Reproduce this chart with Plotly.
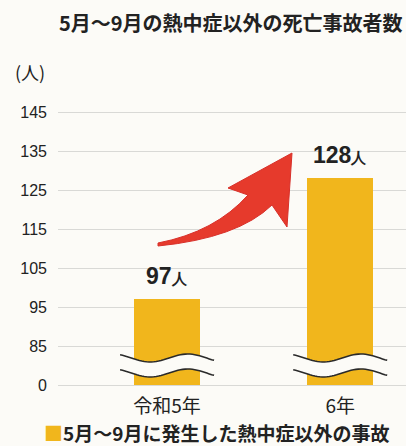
import numpy as np
import plotly.graph_objects as go

# ---- data ----
categories = ["令和5年", "6年"]
values = [97, 128]
value_labels = ["97", "128"]
tick_values = [75, 85, 95, 105, 115, 125, 135, 145]
tick_labels = ["0", "85", "95", "105", "115", "125", "135", "145"]
title_text = "5月〜9月の熱中症以外の死亡事故者数"
legend_text = "5月〜9月に発生した熱中症以外の事故"
unit_text = "(人)"

BAR = "#f1b61c"
BG = "#fcfbf7"
JP = "Noto Sans CJK JP"

W, H = 406, 446
ML, MR, MT, MB = 58, 0, 104, 53
XR = [-0.63, 1.38]
YR = [72.95, 147.05]

def px2x(px):
    return XR[0] + (px - ML) / (W - ML - MR) * (XR[1] - XR[0])

def py2y(py):
    return YR[1] - (py - MT) / (H - MT - MB) * (YR[1] - YR[0])

def pap_x(px):
    return (px - ML) / (W - ML - MR)

def pap_y(py):
    return (H - MB - py) / (H - MT - MB)

xs = list(range(len(categories)))

fig = go.Figure()
fig.add_trace(go.Bar(
    x=xs, y=[v - 75 for v in values], base=75, width=0.38,
    marker=dict(color=BAR, line=dict(width=0)), showlegend=False,
    hoverinfo="skip",
))

shapes = []
# wavy break marks
for i in xs:
    cpx = ML + (i - XR[0]) / (XR[1] - XR[0]) * (W - ML - MR)
    t = np.linspace(-0.3 * np.pi, 2.2 * np.pi, 40)
    pxs = cpx - 47 + (t - t[0]) / (t[-1] - t[0]) * 94
    up = 358 + 4 * np.sin(t)
    lo = up + 15
    pts_up = [(px2x(a), py2y(b)) for a, b in zip(pxs, up)]
    pts_lo = [(px2x(a), py2y(b)) for a, b in zip(pxs, lo)]
    fill = "M " + " L ".join(f"{a},{b}" for a, b in pts_up) + " L " + \
        " L ".join(f"{a},{b}" for a, b in pts_lo[::-1]) + " Z"
    shapes.append(dict(type="path", xref="x", yref="y", path=fill,
                       fillcolor=BG, line=dict(width=0), layer="above"))
    for pts in (pts_up, pts_lo):
        p = "M " + " L ".join(f"{a},{b}" for a, b in pts)
        shapes.append(dict(type="path", xref="x", yref="y", path=p,
                           line=dict(color="#2a2a2a", width=1.6), layer="above"))

# red arrow
def P(px, py):
    return f"{px2x(px)},{py2y(py)}"
arrow = (f"M {P(158,243)} Q {P(215,232)} {P(248,195)} L {P(228,188)} L {P(292,153)} "
         f"L {P(287,227)} L {P(272,205)} Q {P(238,238)} {P(158,246)} Z")
shapes.append(dict(type="path", xref="x", yref="y", path=arrow,
                   fillcolor="#e63a2c", line=dict(color="#d8302a", width=1), layer="above"))

annotations = [
    dict(text=f"<b>{title_text}</b>", x=pap_x(231), y=pap_y(22), xref="paper", yref="paper",
         xanchor="center", yanchor="middle", showarrow=False,
         font=dict(family=JP, size=20, color="#222")),
    dict(text=unit_text, x=pap_x(13), y=pap_y(72), xref="paper", yref="paper",
         xanchor="left", yanchor="middle", showarrow=False,
         font=dict(family=JP, size=18, color="#222")),
    dict(text=f"<span style='color:{BAR}'>■</span><b>{legend_text}</b>", x=pap_x(42), y=pap_y(433),
         xref="paper", yref="paper", xanchor="left", yanchor="middle", showarrow=False,
         font=dict(family=JP, size=19, color="#222")),
]
for i, v, lab in zip(xs, values, value_labels):
    annotations.append(dict(
        text=f"<b>{lab}</b><span style='font-size:15px'><b>人</b></span>",
        x=i, y=v, xref="x", yref="y", xanchor="center", yanchor="bottom",
        yshift=8, showarrow=False,
        font=dict(family="Liberation Sans", size=23, color="#222")))

fig.update_layout(
    width=W, height=H, margin=dict(l=ML, r=MR, t=MT, b=MB),
    paper_bgcolor=BG, plot_bgcolor=BG,
    shapes=shapes, annotations=annotations, bargap=0,
    xaxis=dict(range=XR, tickvals=xs, ticktext=categories, showgrid=False,
               zeroline=False, showline=False, ticks="",
               tickfont=dict(family=JP, size=19, color="#222")),
    yaxis=dict(range=YR, tickvals=tick_values, ticktext=tick_labels,
               showgrid=True, gridcolor="#d9d9d6", gridwidth=1, zeroline=False,
               showline=False, ticks="", ticklabelstandoff=10,
               tickfont=dict(family="Liberation Sans", size=16, color="#222")),
)
fig.write_html("out.html", config={"displayModeBar": False},
               post_script="document.body.style.margin='0';document.body.style.background='" + BG + "';")
